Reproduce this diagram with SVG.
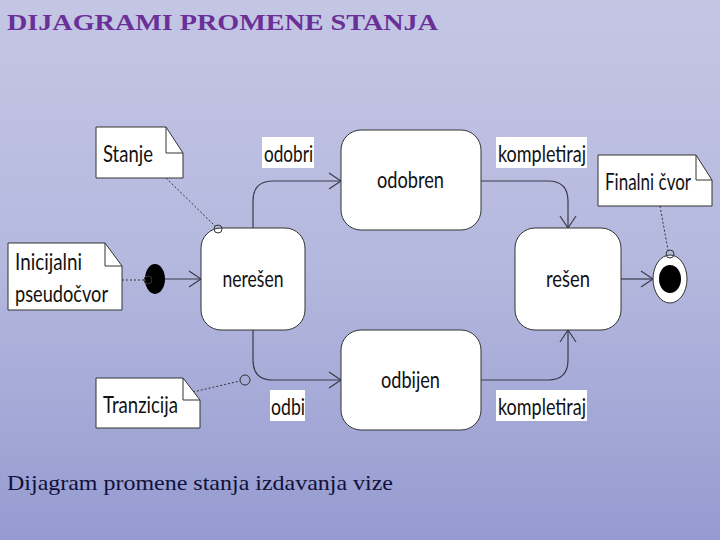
<svg xmlns="http://www.w3.org/2000/svg" width="720" height="540" viewBox="0 0 720 540">
<defs>
<linearGradient id="bg" x1="0" y1="0" x2="0" y2="1">
<stop offset="0" stop-color="#c4c6e4"/>
<stop offset="0.5" stop-color="#b4b8de"/>
<stop offset="1" stop-color="#959bd0"/>
</linearGradient>
<marker id="arr" markerWidth="14" markerHeight="18" refX="13" refY="9" orient="auto" markerUnits="userSpaceOnUse">
<path d="M1,1 L13,9 L1,17" fill="none" stroke="#3a3a4a" stroke-width="1.2"/>
</marker>
<style>
.node{fill:#fff;stroke:#333;stroke-width:1}
.lbl{font-family:Lato,"Open Sans",sans-serif;font-size:23px;fill:#111;text-anchor:middle}
.note{fill:#fff;stroke:#333;stroke-width:1}
.fold{fill:none;stroke:#333;stroke-width:1}
.ntxt{font-family:Lato,"Open Sans",sans-serif;font-size:23px;fill:#111}
.edge{fill:none;stroke:#3a3a4a;stroke-width:1.2}
.dot{fill:none;stroke:#333;stroke-width:1;stroke-dasharray:2,2}
.pin{fill:none;stroke:#333;stroke-width:1}
.tag{fill:#fff}
</style>
</defs>
<rect x="0" y="0" width="720" height="540" fill="url(#bg)"/>
<text x="7" y="30" font-family="'Liberation Serif',serif" font-size="24" font-weight="bold" fill="#6a3098" textLength="431" lengthAdjust="spacingAndGlyphs">DIJAGRAMI PROMENE STANJA</text>
<text x="7" y="490" font-family="'Liberation Serif',serif" font-size="21" fill="#10103a" textLength="386" lengthAdjust="spacingAndGlyphs">Dijagram promene stanja izdavanja vize</text>

<g id="connectors">
<line class="edge" x1="165" y1="279" x2="201" y2="279" marker-end="url(#arr)"/>
<path class="edge" d="M253,228 V201 Q253,181 273,181 H341" marker-end="url(#arr)"/>
<path class="edge" d="M253,330 V360 Q253,380 273,380 H341" marker-end="url(#arr)"/>
<path class="edge" d="M481,181 H548 Q568,181 568,201 V228" marker-end="url(#arr)"/>
<path class="edge" d="M481,380 H548 Q568,380 568,360 V330" marker-end="url(#arr)"/>
<line class="edge" x1="621" y1="279" x2="653" y2="279" marker-end="url(#arr)"/>
<line class="dot" x1="166" y1="178" x2="215" y2="226"/>
<line class="dot" x1="122" y1="280" x2="145" y2="280"/>
<line class="dot" x1="660" y1="206" x2="668" y2="250"/>
<line class="dot" x1="193" y1="392" x2="240" y2="381"/>
</g>

<g id="label-odobri"><rect class="tag" x="262" y="137" width="52" height="31"/><text class="lbl" x="288.5" y="162" textLength="49" lengthAdjust="spacingAndGlyphs">odobri</text></g>
<g id="label-kompletiraj1"><rect class="tag" x="496" y="137" width="91" height="31"/><text class="lbl" x="542" y="162" textLength="88" lengthAdjust="spacingAndGlyphs">kompletiraj</text></g>
<g id="label-odbi"><rect class="tag" x="270" y="390" width="35" height="31"/><text class="lbl" x="288" y="415" textLength="34" lengthAdjust="spacingAndGlyphs">odbi</text></g>
<g id="label-kompletiraj2"><rect class="tag" x="496" y="390" width="91" height="31"/><text class="lbl" x="542" y="415" textLength="88" lengthAdjust="spacingAndGlyphs">kompletiraj</text></g>

<g id="neresen"><rect class="node" x="201" y="228" width="104" height="102" rx="20"/><circle class="pin" cx="218" cy="229" r="4"/><text class="lbl" x="253" y="287" textLength="61" lengthAdjust="spacingAndGlyphs">nerešen</text></g>
<g id="odobren"><rect class="node" x="341" y="130" width="140" height="100" rx="20"/><text class="lbl" x="410.5" y="188" textLength="67" lengthAdjust="spacingAndGlyphs">odobren</text></g>
<g id="odbijen"><rect class="node" x="341" y="330" width="140" height="100" rx="20"/><text class="lbl" x="410.5" y="388" textLength="59" lengthAdjust="spacingAndGlyphs">odbijen</text></g>
<g id="resen"><rect class="node" x="515" y="228" width="106" height="102" rx="20"/><text class="lbl" x="568" y="287" textLength="44" lengthAdjust="spacingAndGlyphs">rešen</text></g>

<g id="initial"><ellipse cx="155" cy="279" rx="10" ry="15" fill="#000"/><circle class="pin" cx="148" cy="280" r="4" fill="#c0c3e2"/></g>
<g id="final"><ellipse cx="670" cy="279" rx="17" ry="24" fill="#fff" stroke="#333"/><ellipse cx="670" cy="279" rx="11" ry="14" fill="#000"/><circle class="pin" cx="670" cy="254" r="4" fill="#fff"/></g>

<g id="note-stanje"><path class="note" d="M96,127 H166 L183,153 V178 H96 Z"/><path class="fold" d="M166,127 V153 H183"/><text class="ntxt" x="103" y="162" textLength="50" lengthAdjust="spacingAndGlyphs">Stanje</text></g>
<g id="note-inicijalni"><path class="note" d="M8,243 H105 L122,266 V310 H8 Z"/><path class="fold" d="M105,243 V266 H122"/><text class="ntxt" x="15" y="270" textLength="67" lengthAdjust="spacingAndGlyphs">Inicijalni</text><text class="ntxt" x="15" y="302" textLength="93" lengthAdjust="spacingAndGlyphs">pseudočvor</text></g>
<g id="note-finalni"><path class="note" d="M598,155 H696 L712,180 V206 H598 Z"/><path class="fold" d="M696,155 V180 H712"/><text class="ntxt" x="605" y="190" textLength="86" lengthAdjust="spacingAndGlyphs">Finalni čvor</text></g>
<g id="note-tranzicija"><path class="note" d="M96,378 H183 L200,400 V428 H96 Z"/><path class="fold" d="M183,378 V400 H200"/><text class="ntxt" x="103" y="413" textLength="75" lengthAdjust="spacingAndGlyphs">Tranzicija</text></g>
<circle class="pin" cx="245" cy="380" r="5"/>
</svg>
